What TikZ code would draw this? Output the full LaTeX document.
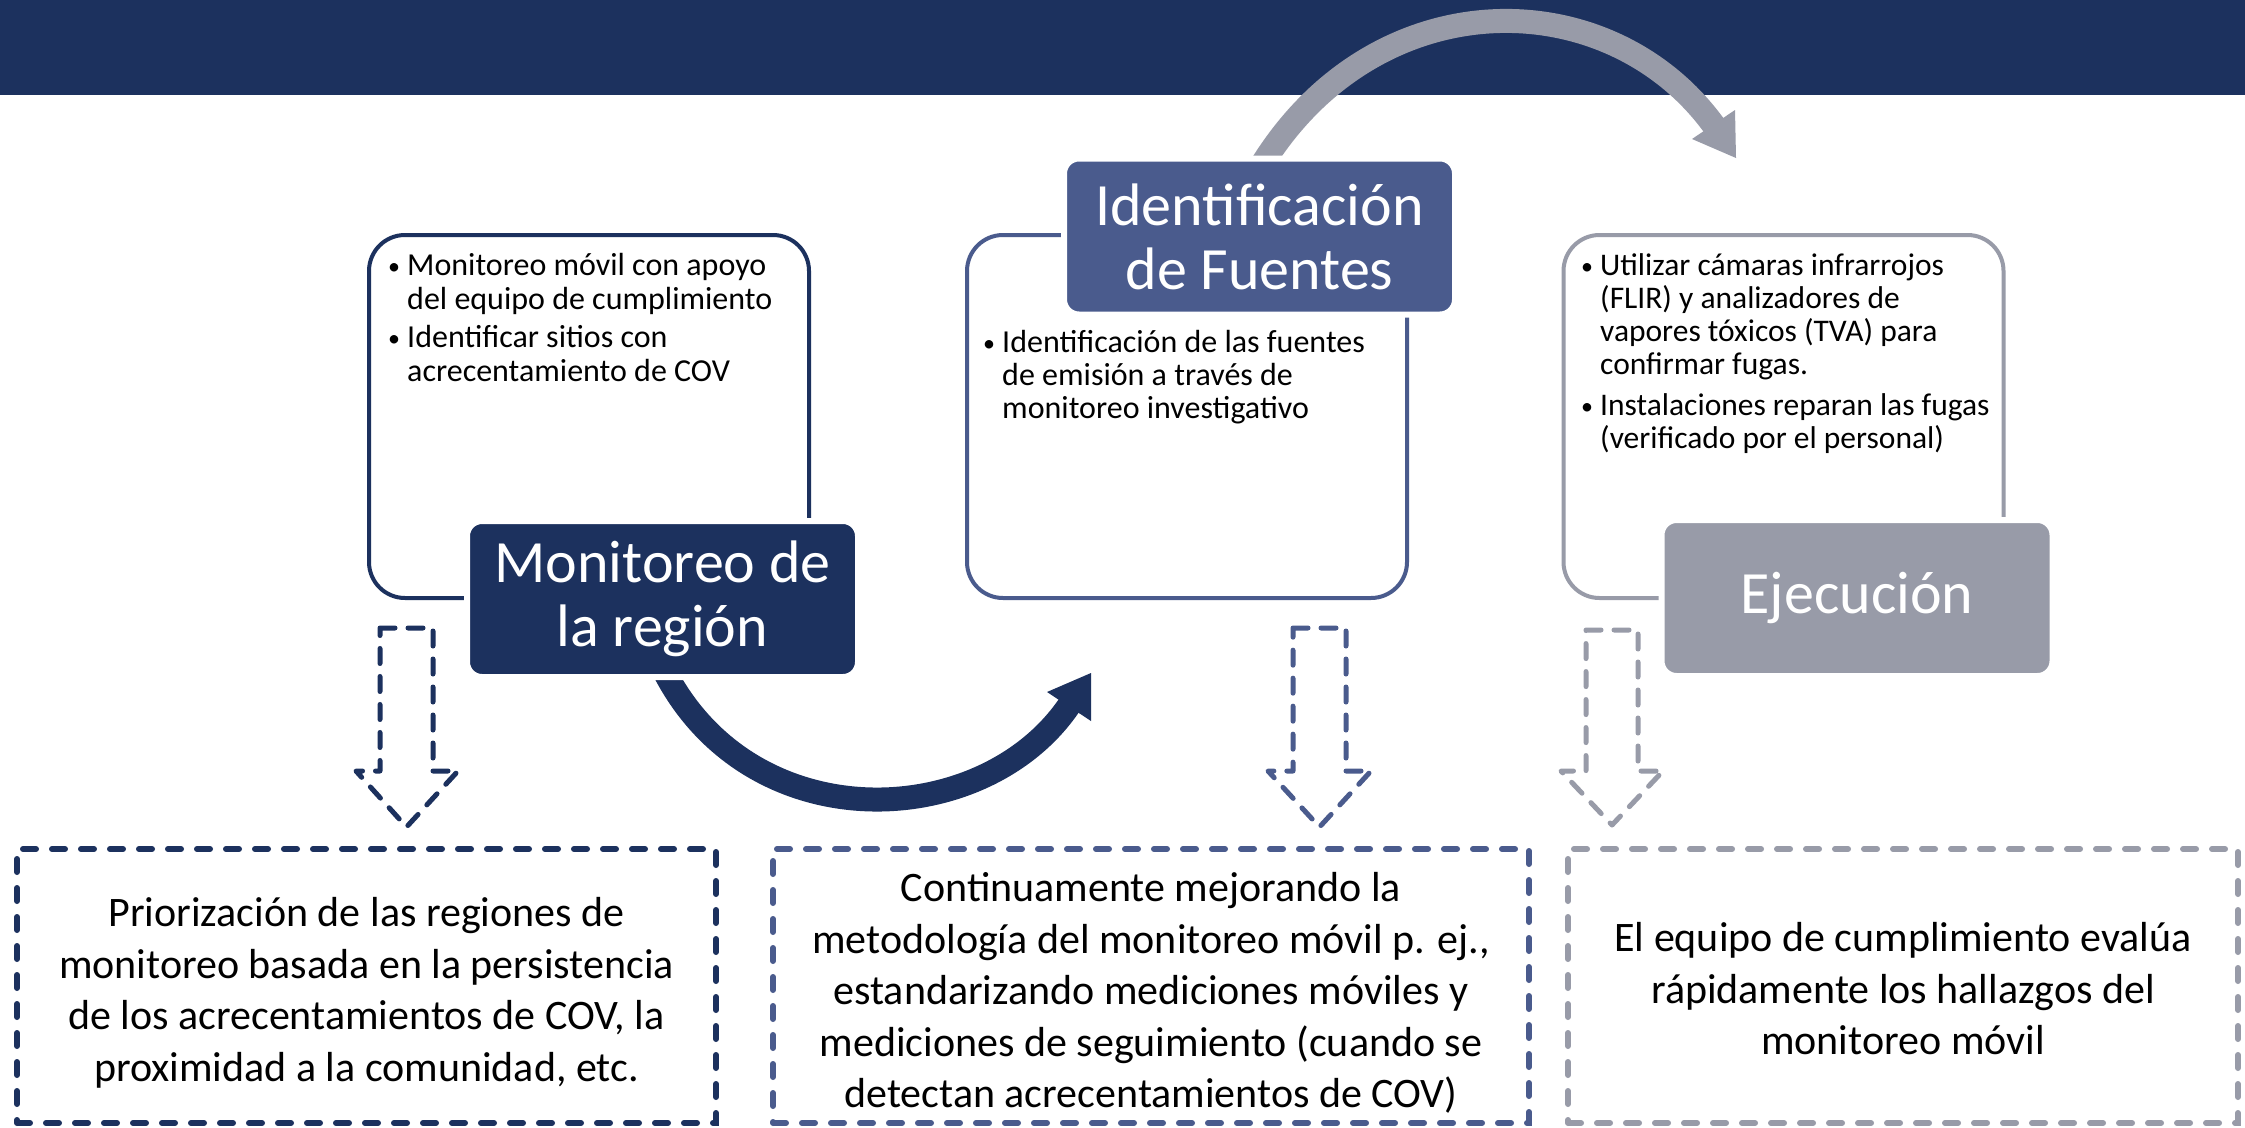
\documentclass[tikz,border=0pt]{standalone}
\usepackage{fontspec}
\setmainfont{Carlito}
\definecolor{navy}{RGB}{28,49,94}
\definecolor{midblue}{RGB}{74,91,141}
\definecolor{grayb}{RGB}{152,155,168}
\tikzset{
  outbox/.style={draw, line width=4pt, rounded corners=36pt, minimum width=440pt, minimum height=363pt, inner sep=0pt},
  lab/.style={draw=white, line width=6pt, rounded corners=15pt, minimum width=391pt, minimum height=156pt, text=white, align=center, font=\fontsize{60}{64}\selectfont, inner sep=0pt},
  dbox/.style={draw, line width=6pt, dash pattern=on 13pt off 16pt, line cap=round, minimum height=274pt, inner sep=0pt},
  btext/.style={align=center, font=\fontsize{42}{51.5}\selectfont, inner sep=0pt, text=black},
  darrow/.style={line width=5pt, dash pattern=on 15pt off 13pt, line cap=round, line join=round},
  bul/.style={anchor=base west, inner sep=0pt},
  bigcurve/.style={line width=24pt},
}
\newcommand{\bmark}{\makebox[19pt][l]{\raisebox{1pt}{\fontsize{24}{24}\selectfont •}}}
\begin{document}
\begin{tikzpicture}[x=1pt,y=-1pt]
\useasboundingbox (0,0) rectangle (2245,1127);
\fill[white] (0,0) rectangle (2245,1127);
% banner
\fill[navy] (0,0) rectangle (2245,95);

% curved arrows (tails hidden under labels)
\coordinate (n0) at (658,658);
\coordinate (n3) at (1070,704);
\draw[bigcurve, navy] (n0) .. controls (741,843) and (983,834) .. (n3);
\fill[navy] (1091,673) -- (1047,692) -- (1091,721) -- cycle;

\coordinate (g0) at (1254,178);
\coordinate (g3) at (1715,127);
\draw[bigcurve, grayb] (g0) .. controls (1367,-22) and (1608,-22) .. (g3);
\fill[grayb] (1736,158) -- (1692,139) -- (1735,110) -- cycle;

% outlined boxes
\node[outbox, navy] (box1) at (589,416.5) {};
\node[outbox, midblue] (box2) at (1187,416.5) {};
\node[outbox, grayb] (box3) at (1783.5,416.5) {};

% labels
\node[lab, fill=navy] (lab1) at (662.5,599) {Monitoreo de\\la región};
\node[lab, fill=midblue] (lab2) at (1259.5,236.5) {Identificación\\de Fuentes};
\node[lab, fill=grayb] (lab3) at (1857,598) {Ejecución};

% bullet texts
\node[bul, font=\fontsize{32}{34}\selectfont] (t1) at (388,275) {\begin{tabular}[t]{@{}l@{}l@{}}
\bmark & Monitoreo móvil con apoyo\\
 & del equipo de cumplimiento\\[4pt]
\bmark & Identificar sitios con\\
 & acrecentamiento de COV
\end{tabular}};
\node[bul, font=\fontsize{32}{33}\selectfont] (t2) at (983,352) {\begin{tabular}[t]{@{}l@{}l@{}}
\bmark & Identificación de las fuentes\\
 & de emisión a través de\\
 & monitoreo investigativo
\end{tabular}};
\node[bul, font=\fontsize{31.5}{33}\selectfont] (t3) at (1581,275) {\begin{tabular}[t]{@{}l@{}l@{}}
\bmark & Utilizar cámaras infrarrojos\\
 & (FLIR) y analizadores de\\
 & vapores tóxicos (TVA) para\\
 & confirmar fugas.\\[8pt]
\bmark & Instalaciones reparan las fugas\\
 & (verificado por el personal)
\end{tabular}};

% dashed down arrows
\draw[darrow, navy] (380,628) -- (433,628) -- (433,771) -- (458,771) -- (406.5,827) -- (356,771) -- (380,771) -- cycle;
\draw[darrow, midblue] (1293,628) -- (1346,628) -- (1346,771) -- (1371,771) -- (1319.5,827) -- (1268,771) -- (1293,771) -- cycle;
\draw[darrow, grayb] (1586,630) -- (1638,630) -- (1638,771) -- (1663,771) -- (1612,825) -- (1561,771) -- (1586,771) -- cycle;

% bottom dashed boxes
\node[dbox, navy, minimum width=699pt] (bA) at (366.5,986) {};
\node[dbox, midblue, minimum width=756pt] (bB) at (1151,986) {};
\node[dbox, grayb, minimum width=670pt] (bC) at (1903,986) {};
\node[btext] (tA) at (366.5,993) {Priorización de las regiones de\\monitoreo basada en la persistencia\\de los acrecentamientos de COV, la\\proximidad a la comunidad, etc.};
\node[btext] (tB) at (1151,993) {Continuamente mejorando la\\metodología del monitoreo móvil p. ej.,\\estandarizando mediciones móviles y\\mediciones de seguimiento (cuando se\\detectan acrecentamientos de COV)};
\node[btext] (tC) at (1903,989) {El equipo de cumplimiento evalúa\\rápidamente los hallazgos del\\monitoreo móvil};
\end{tikzpicture}
\end{document}
